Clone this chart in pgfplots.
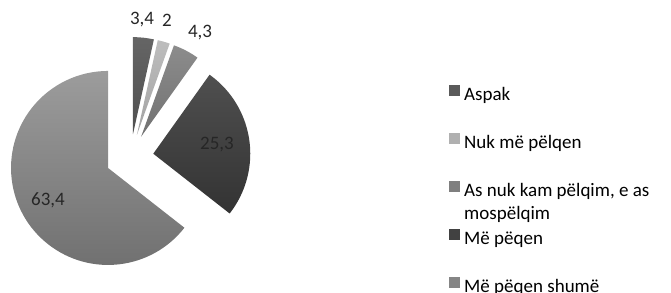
\documentclass[border=0pt]{standalone}
\usepackage{pgfplots}
\pgfplotsset{compat=1.18}
\usepackage{pgfplotstable}
\usepackage{fontspec}
\setmainfont{Carlito}
\definecolor{aT}{HTML}{656565}\definecolor{aB}{HTML}{4F4F4F}
\definecolor{bT}{HTML}{BDBDBD}\definecolor{bB}{HTML}{A3A3A3}
\definecolor{cT}{HTML}{8C8C8C}\definecolor{cB}{HTML}{717171}
\definecolor{dT}{HTML}{4F4F4F}\definecolor{dB}{HTML}{333333}
\definecolor{eT}{HTML}{9C9C9C}\definecolor{eB}{HTML}{6E6E6E}
\definecolor{lbl}{HTML}{262626}
\pgfplotstableread[col sep=comma]{
label,value
Aspak,3.4
Nuk,2
AsNuk,4.3
Pelqen,25.3
Shume,63.4
}\piedata
\newcommand\getval[2]{\pgfplotstablegetelem{#1}{value}\of\piedata\global\let#2\pgfplotsretval}
\getval{0}\va \getval{1}\vb \getval{2}\vc \getval{3}\vd \getval{4}\ve
\pgfmathsetmacro\tot{\va+\vb+\vc+\vd+\ve}
\pgfmathsetmacro\sa{90}
\pgfmathsetmacro\sb{90-360*\va/\tot}
\pgfmathsetmacro\sc{90-360*(\va+\vb)/\tot}
\pgfmathsetmacro\sd{90-360*(\va+\vb+\vc)/\tot}
\pgfmathsetmacro\se{90-360*(\va+\vb+\vc+\vd)/\tot}
\pgfmathsetmacro\sf{-270}
\def\cx{130.5}\def\cy{135}\def\R{97pt}
% apex of each exploded slice
\newcommand\apex[5]{% start,end,explode -> macros x,y
  \pgfmathsetmacro#4{\cx+#3*cos((#1+#2)/2)}%
  \pgfmathsetmacro#5{\cy+#3*sin((#1+#2)/2)}}
\apex{\sa}{\sb}{23}\xa\ya
\apex{\sb}{\sc}{23}\xb\yb
\apex{\sc}{\sd}{23}\xc\yc
\apex{\sd}{\se}{23}\xd\yd
\apex{\se}{\sf}{25}\xe\ye
\begin{document}
\begin{tikzpicture}
\useasboundingbox (0,0) rectangle (671pt,292pt);
\begin{axis}[
  at={(0,0)}, anchor=south west,
  x=1pt, y=1pt, xmin=0, xmax=671, ymin=0, ymax=292,
  hide axis, clip=false,
  legend cell align=left,
  legend image code/.code={\fill[draw=none,#1] (0pt,-0.5pt) rectangle (11pt,10.5pt);},
  legend style={draw=none, fill=none, at={(axis cs:449,207)}, anchor=north west,
    font=\fontsize{19}{23}\selectfont, inner sep=0pt, row sep=28pt,
    column sep=4pt,
    nodes={inner sep=0pt, text height=14pt, text depth=5pt}},
]
\shade[top color=eT, bottom color=eB] (axis cs:\xe,\ye) -- ++(\se:\R) arc[start angle=\se, end angle=\sf, radius=\R] -- cycle;
\shade[top color=dT, bottom color=dB] (axis cs:\xd,\yd) -- ++(\sd:\R) arc[start angle=\sd, end angle=\se, radius=\R] -- cycle;
\shade[top color=cT, bottom color=cB] (axis cs:\xc,\yc) -- ++(\sc:\R) arc[start angle=\sc, end angle=\sd, radius=\R] -- cycle;
\shade[top color=bT, bottom color=bB] (axis cs:\xb,\yb) -- ++(\sb:\R) arc[start angle=\sb, end angle=\sc, radius=\R] -- cycle;
\shade[top color=aT, bottom color=aB] (axis cs:\xa,\ya) -- ++(\sa:\R) arc[start angle=\sa, end angle=\sb, radius=\R] -- cycle;
\addlegendimage{fill=aT!50!aB}
\addlegendentry{Aspak}
\addlegendimage{fill=bT!50!bB}
\addlegendentry{Nuk më pëlqen}
\addlegendimage{fill=cT!50!cB}
\addlegendentry{\begin{tabular}[t]{@{}l@{}}As nuk kam pëlqim, e as\\mospëlqim\end{tabular}}
\addlegendimage{fill=dT!50!dB}
\addlegendentry{Më pëqen}
\addlegendimage{fill=eT!50!eB}
\addlegendentry{Më pëqen shumë}
\begin{scope}[every node/.style={font=\fontsize{19}{23}\selectfont, text=lbl, inner sep=0pt}]
\node at (axis cs:142,272) {3,4};
\node at (axis cs:167,272) {2};
\node at (axis cs:200,259) {4,3};
\node at (axis cs:217,147) {25,3};
\node at (axis cs:48,92) {63,4};
\end{scope}
\end{axis}
\end{tikzpicture}
\end{document}
